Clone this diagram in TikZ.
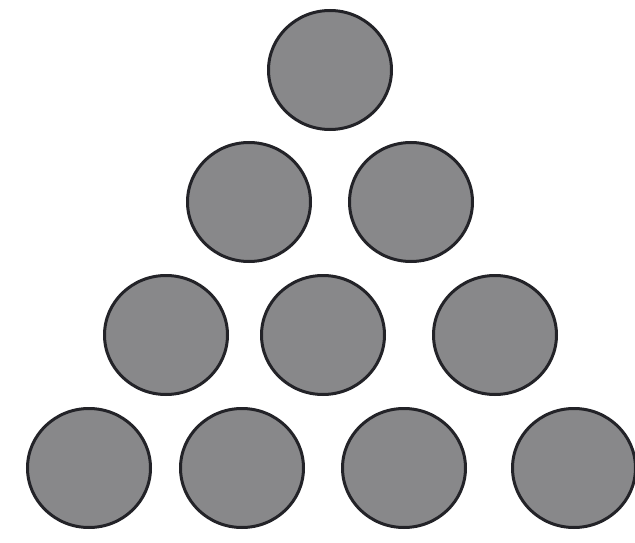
\documentclass[tikz,border=0pt]{standalone}
\usetikzlibrary{shapes.geometric}
\definecolor{ballfill}{RGB}{136,136,138}
\definecolor{ballline}{RGB}{35,35,40}
\begin{document}
\begin{tikzpicture}[x=1pt,y=-1pt,
  ball/.style={ellipse,draw=ballline,fill=ballfill,line width=3pt,
    minimum width=123pt,minimum height=119pt,inner sep=0pt}]
\useasboundingbox (0,0) rectangle (635,543);
\node[ball] (b1) at (330,70) {};
\node[ball] (b2) at (249,202) {};
\node[ball] (b3) at (411,202) {};
\node[ball] (b4) at (166,335) {};
\node[ball] (b5) at (323,335) {};
\node[ball] (b6) at (495,335) {};
\node[ball] (b7) at (89,468) {};
\node[ball] (b8) at (242,468) {};
\node[ball] (b9) at (404,468) {};
\node[ball] (b10) at (574,468) {};
\end{tikzpicture}
\end{document}
